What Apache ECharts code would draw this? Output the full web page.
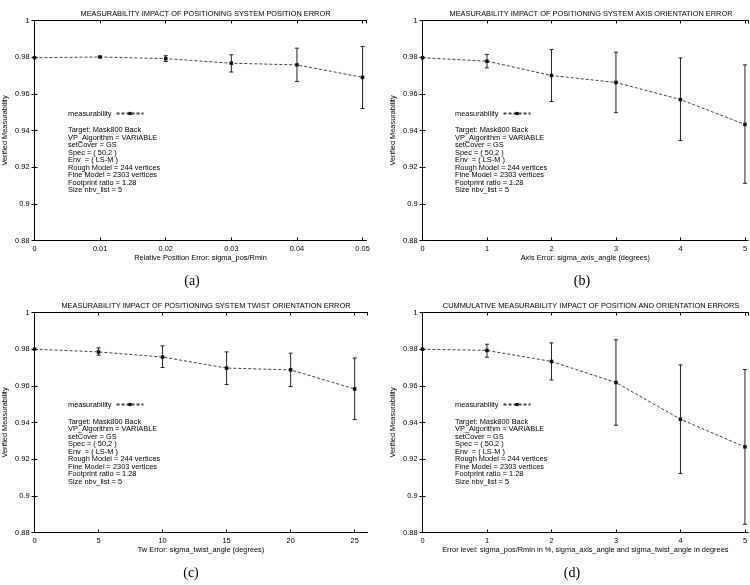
<!DOCTYPE html>
<html>
<head>
<meta charset="utf-8">
<script src="https://cdn.jsdelivr.net/npm/echarts@6/dist/echarts.min.js"></script>
<style>html,body{margin:0;padding:0;background:#fff}#c{width:750px;height:585px}</style>
</head>
<body>
<div id="c"></div>
<script>
// ---- data ----
const titles = [
  'MEASURABILITY IMPACT OF POSITIONING SYSTEM POSITION ERROR',
  'MEASURABILITY IMPACT OF POSITIONING SYSTEM AXIS ORIENTATION ERROR',
  'MEASURABILITY IMPACT OF POSITIONING SYSTEM TWIST ORIENTATION ERROR',
  'CUMMULATIVE MEASURABILITY IMPACT OF POSITION AND ORIENTATION ERRORS'
];
const xNames = [
  'Relative Position Error: sigma_pos/Rmin',
  'Axis Error: sigma_axis_angle (degrees)',
  'Tw Error: sigma_twist_angle (degrees)',
  'Error level: sigma_pos/Rmin in %, sigma_axis_angle and sigma_twist_angle in degrees'
];
const subLabels = ['(a)', '(b)', '(c)', '(d)'];
const yName = 'Verified Measurability';
const seriesName = 'measurability';

const xA = [0, 0.01, 0.02, 0.03, 0.04, 0.05];
const yA = [0.9797, 0.9801, 0.9792, 0.9767, 0.9758, 0.9690];
const loA = [null, 0.9798, 0.9777, 0.9719, 0.9667, 0.9520];
const hiA = [null, 0.9804, 0.9808, 0.9813, 0.9849, 0.9859];

const xB = [0, 1, 2, 3, 4, 5];
const yB = [0.9797, 0.9778, 0.9700, 0.9662, 0.9569, 0.9433];
const loB = [null, 0.9742, 0.9558, 0.9497, 0.9345, 0.9112];
const hiB = [null, 0.9815, 0.9842, 0.9827, 0.9796, 0.9758];

const xC = [0, 5, 10, 15, 20, 25];
const yC = [0.9800, 0.9785, 0.9757, 0.9697, 0.9687, 0.9583];
const loC = [null, 0.9767, 0.9700, 0.9607, 0.9596, 0.9416];
const hiC = [null, 0.9807, 0.9818, 0.9785, 0.9778, 0.9752];

const xD = [0, 1, 2, 3, 4, 5];
const yD = [0.9800, 0.9793, 0.9733, 0.9618, 0.9418, 0.9267];
const loD = [null, 0.9756, 0.9632, 0.9385, 0.9122, 0.8845];
const hiD = [null, 0.9827, 0.9834, 0.9851, 0.9714, 0.9689];

const infoLines = [
  'Target: Mask800 Back',
  'VP_Algorithm = VARIABLE',
  'setCover = GS',
  'Spec = ( 50,2 )',
  'Env  = ( LS-M )',
  'Rough Model = 244 vertices',
  'Fine Model = 2303 vertices',
  'Footprint ratio = 1.28',
  'Size nbv_list = 5'
];

const yMin = 0.88, yMax = 1, yInterval = 0.02;
const xAxesCfg = [
  {max: 0.0506, interval: 0.01},
  {max: 5.05, interval: 1},
  {max: 26, interval: 5},
  {max: 5.05, interval: 1}
];

// ---- layout ----
const FONT = 'Liberation Sans';
const FS = 7.4;
const grids = [
  {left: 34.5, top: 20.5, width: 332, height: 220},
  {left: 422.5, top: 20.5, width: 329, height: 220},
  {left: 34.5, top: 312.5, width: 333, height: 220},
  {left: 422.5, top: 312.5, width: 329, height: 220}
];
const legendPos = [[68, 110], [455, 110], [68, 401], [455, 401]];
const infoPos = [[68, 126.5], [455, 126.5], [68, 418], [455, 418]];
const subPos = [[192, 281], [582, 281], [191, 573], [572, 573]];

const xs = [xA, xB, xC, xD], ys = [yA, yB, yC, yD], los = [loA, loB, loC, loD], his = [hiA, hiB, hiC, hiD];

const chart = echarts.init(document.getElementById('c'), null, {renderer: 'canvas'});

const option = {
  backgroundColor: '#fff',
  animation: false,
  title: [], grid: [], xAxis: [], yAxis: [], series: [], legend: [], graphic: []
};

const axisLine = {show: true, lineStyle: {color: '#000', width: 1}};
const tickIn = {show: true, inside: true, length: 3, lineStyle: {color: '#000', width: 1}};

for (let i = 0; i < 4; i++) {
  const g = grids[i];
  option.grid.push(Object.assign({containLabel: false}, g));
  option.title.push({
    text: titles[i],
    left: g.left + g.width / 2 - (i % 2 ? 1 : 0),
    top: g.top - 15.5,
    textAlign: 'center',
    textStyle: {fontFamily: FONT, fontSize: FS, fontWeight: 'normal', color: '#000'}
  });
  const xc = xAxesCfg[i];
  option.xAxis.push({
    type: 'value', gridIndex: i, position: 'bottom', min: 0, max: xc.max, interval: xc.interval,
    axisLine, axisTick: tickIn, splitLine: {show: false},
    axisLabel: {fontFamily: FONT, fontSize: FS, color: '#000', margin: 5, showMaxLabel: false},
    name: xNames[i], nameLocation: 'middle', nameGap: 14,
    nameTextStyle: {fontFamily: FONT, fontSize: FS, color: '#000'}
  });
  option.xAxis.push({
    type: 'value', gridIndex: i, position: 'top', min: 0, max: xc.max, interval: xc.interval,
    axisLine, axisTick: tickIn, splitLine: {show: false}, axisLabel: {show: false}
  });
  option.yAxis.push({
    type: 'value', gridIndex: i, position: 'left', min: yMin, max: yMax, interval: yInterval,
    axisLine, axisTick: tickIn, splitLine: {show: false},
    axisLabel: {fontFamily: FONT, fontSize: FS, color: '#000', margin: 5},
    name: yName, nameLocation: 'middle', nameGap: 26, nameRotate: 90,
    nameTextStyle: {fontFamily: FONT, fontSize: FS, color: '#000'}
  });
  option.yAxis.push({
    type: 'value', gridIndex: i, position: 'right', min: yMin, max: yMax, interval: yInterval,
    axisLine, axisTick: tickIn, splitLine: {show: false}, axisLabel: {show: false}
  });

  const lineData = xs[i].map((x, k) => [x, ys[i][k]]);
  const errData = xs[i].map((x, k) => [x, los[i][k], his[i][k]]).filter(d => d[1] != null);

  option.series.push({
    type: 'custom', name: 'err' + i, xAxisIndex: 2 * i, yAxisIndex: 2 * i,
    coordinateSystem: 'cartesian2d', silent: true, z: 2,
    data: errData,
    renderItem: function (params, api) {
      const x = api.value(0);
      const p1 = api.coord([x, api.value(1)]);
      const p2 = api.coord([x, api.value(2)]);
      const w = 2;
      const st = {stroke: '#222', lineWidth: 1};
      return {type: 'group', children: [
        {type: 'line', shape: {x1: p1[0], y1: p1[1], x2: p2[0], y2: p2[1]}, style: st},
        {type: 'line', shape: {x1: p1[0] - w, y1: p1[1], x2: p1[0] + w, y2: p1[1]}, style: st},
        {type: 'line', shape: {x1: p2[0] - w, y1: p2[1], x2: p2[0] + w, y2: p2[1]}, style: st}
      ]};
    }
  });
  option.series.push({
    type: 'line', name: seriesName, xAxisIndex: 2 * i, yAxisIndex: 2 * i, z: 3,
    data: lineData, symbol: 'rect', symbolSize: 3.5, showSymbol: true,
    lineStyle: {color: '#444', width: 1, type: [3, 2]},
    itemStyle: {color: '#111'}
  });

  option.legend.push({
    data: [seriesName], left: legendPos[i][0], top: legendPos[i][1], align: 'right',
    padding: 0, itemWidth: 27, itemHeight: 4, selectedMode: false,
    textStyle: {fontFamily: FONT, fontSize: FS, color: '#000'}
  });

  option.graphic.push({
    type: 'text', x: infoPos[i][0], y: infoPos[i][1], silent: true,
    style: {text: infoLines.join('\n'), fontFamily: FONT, fontSize: FS, lineHeight: 7.5, fill: '#000', verticalAlign: 'top'}
  });
  option.graphic.push({
    type: 'text', x: subPos[i][0], y: subPos[i][1], silent: true,
    style: {text: subLabels[i], fontFamily: 'Liberation Serif', fontSize: 14, fill: '#000', align: 'center', verticalAlign: 'middle'}
  });
}

chart.setOption(option);
</script>
</body>
</html>
